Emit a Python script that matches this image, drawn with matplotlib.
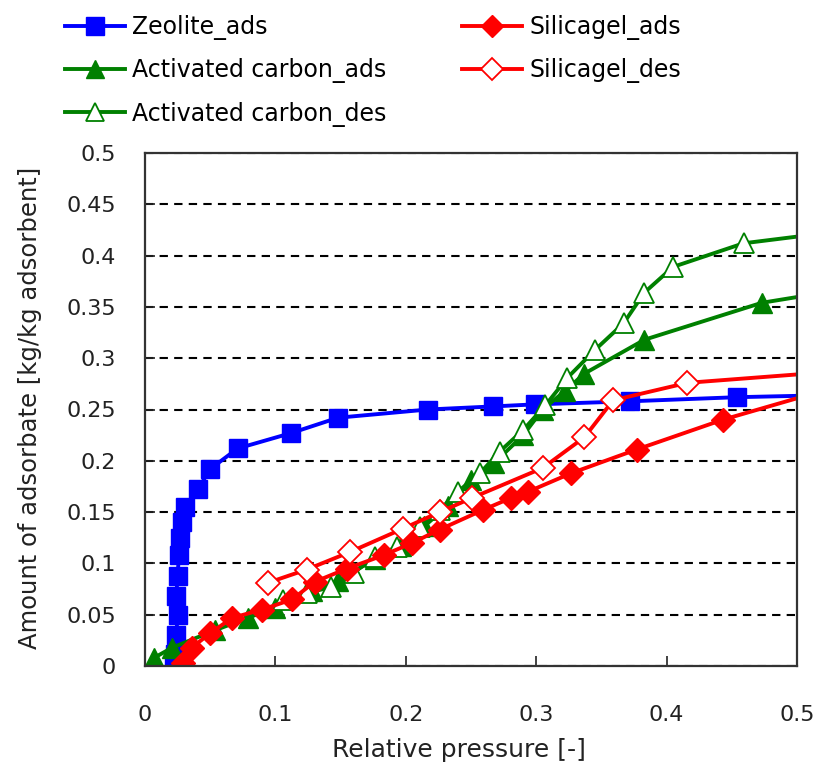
import matplotlib

matplotlib.use("Agg")
import matplotlib.pyplot as plt

plt.rcParams["font.family"] = ["DejaVu Sans"]

# Zeolite adsorption
zeo_x = [0.022, 0.023, 0.024, 0.025, 0.024, 0.025, 0.026, 0.027, 0.028,
         0.031, 0.041, 0.050, 0.071, 0.112, 0.148, 0.217, 0.267, 0.299,
         0.372, 0.454, 0.56]
zeo_y = [0.000, 0.012, 0.030, 0.050, 0.068, 0.088, 0.108, 0.125, 0.140,
         0.155, 0.173, 0.192, 0.212, 0.227, 0.242, 0.250, 0.253, 0.255,
         0.258, 0.262, 0.265]

# Activated carbon adsorption / desorption
ac_ads_x = [0.007, 0.021, 0.054, 0.079, 0.100, 0.128, 0.148, 0.176, 0.196,
            0.214, 0.232, 0.250, 0.268, 0.290, 0.305, 0.322, 0.337, 0.383,
            0.473, 0.56]
ac_ads_y = [0.008, 0.018, 0.035, 0.047, 0.057, 0.073, 0.083, 0.104, 0.117,
            0.136, 0.156, 0.181, 0.198, 0.225, 0.250, 0.268, 0.285, 0.318,
            0.354, 0.372]
ac_des_x = [0.106, 0.124, 0.143, 0.160, 0.176, 0.193, 0.211, 0.226, 0.240,
            0.257, 0.272, 0.290, 0.307, 0.324, 0.345, 0.367, 0.383, 0.405,
            0.459, 0.56]
ac_des_y = [0.064, 0.071, 0.077, 0.091, 0.106, 0.116, 0.135, 0.152, 0.170,
            0.188, 0.209, 0.230, 0.254, 0.281, 0.308, 0.334, 0.364, 0.389,
            0.412, 0.428]

# Silica gel adsorption / desorption
sil_ads_x = [0.029, 0.036, 0.050, 0.067, 0.090, 0.113, 0.130, 0.155, 0.183,
             0.205, 0.226, 0.259, 0.281, 0.294, 0.327, 0.377, 0.443, 0.56]
sil_ads_y = [0.003, 0.018, 0.032, 0.047, 0.055, 0.065, 0.082, 0.095, 0.108,
             0.120, 0.133, 0.152, 0.164, 0.170, 0.188, 0.211, 0.240, 0.283]
sil_des_x = [0.094, 0.124, 0.157, 0.198, 0.226, 0.251, 0.305, 0.337, 0.359,
             0.416, 0.56]
sil_des_y = [0.081, 0.094, 0.111, 0.134, 0.150, 0.164, 0.193, 0.223, 0.259,
             0.276, 0.290]

x_ticks = [0, 0.1, 0.2, 0.3, 0.4, 0.5]
x_labels = ["0", "0.1", "0.2", "0.3", "0.4", "0.5"]
y_ticks = [0, 0.05, 0.1, 0.15, 0.2, 0.25, 0.3, 0.35, 0.4, 0.45, 0.5]
y_labels = ["0", "0.05", "0.1", "0.15", "0.2", "0.25", "0.3", "0.35",
            "0.4", "0.45", "0.5"]

fig = plt.figure(figsize=(8.17, 7.76), dpi=100)
ax = fig.add_axes([145 / 817, 1 - 666 / 776, 652 / 817, 513 / 776])

lw = 2.8
h_zeo, = ax.plot(zeo_x, zeo_y, color="#0000ff", lw=lw, marker="s", ms=13,
                 label="Zeolite_ads")
h_aca, = ax.plot(ac_ads_x, ac_ads_y, color="#008000", lw=lw, marker="^", ms=14,
                 label="Activated carbon_ads")
h_acd, = ax.plot(ac_des_x, ac_des_y, color="#008000", lw=lw, marker="^", ms=14,
                 mfc="white", mew=1.3, label="Activated carbon_des")
h_sa, = ax.plot(sil_ads_x, sil_ads_y, color="#ff0000", lw=lw, marker="D", ms=12,
                label="Silicagel_ads")
h_sd, = ax.plot(sil_des_x, sil_des_y, color="#ff0000", lw=lw, marker="D", ms=12,
                mfc="white", mew=1.3, label="Silicagel_des")

ax.set_xlim(0, 0.5)
ax.set_ylim(0, 0.5)
ax.set_xticks(x_ticks)
ax.set_xticklabels(x_labels)
ax.set_yticks(y_ticks)
ax.set_yticklabels(y_labels)
ax.tick_params(direction="in", length=7, width=1.2, labelsize=16,
               colors="#222222")
ax.tick_params(axis="x", pad=28)
ax.tick_params(axis="y", pad=21)
ax.grid(axis="y", color="black", linestyle=(0, (4, 3)), linewidth=1.5)
ax.set_axisbelow(True)
for sp in ax.spines.values():
    sp.set_linewidth(1.6)
    sp.set_color("#333333")

ax.set_xlabel("Relative pressure [-]", fontsize=18, color="#222222")
ax.set_ylabel("Amount of adsorbate [kg/kg adsorbent]", fontsize=17.5,
              color="#222222")
ax.xaxis.set_label_coords(314 / 652, -72 / 513)
ax.yaxis.set_label_coords(-103 / 652, 258 / 513)

fig.legend(handles=[h_zeo, h_aca, h_acd, h_sa, h_sd], ncol=2, frameon=False,
           loc="upper left", bbox_to_anchor=(53 / 817, 1 - 3 / 776),
           borderpad=0, fontsize=17, handlelength=2.55, handletextpad=0.3,
           columnspacing=3.2, labelspacing=0.78, markerscale=0.95)

fig.savefig("out.png")
